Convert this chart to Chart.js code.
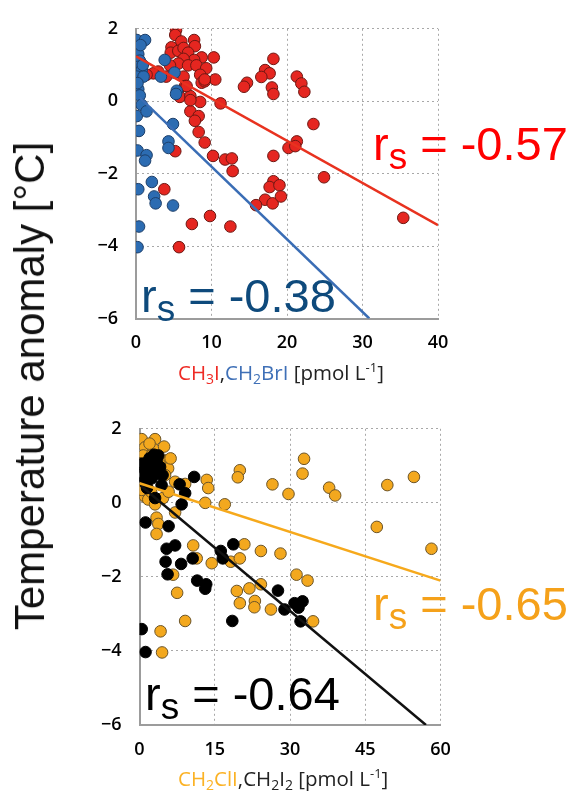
<!DOCTYPE html>
<html>
<head>
<meta charset="utf-8">
<script src="https://cdn.jsdelivr.net/npm/chart.js@4/dist/chart.umd.min.js"></script>
<style>
  html, body { margin: 0; padding: 0; background: #fff; }
  body { width: 571px; height: 796px; position: relative; overflow: hidden; }
  canvas { position: absolute; left: 0; }
  #topChart { top: 0; }
  #bottomChart { top: 400px; }
  #ytitle {
    position: absolute; left: 30px; top: 386px;
    font: 42px "Liberation Sans", Arial, sans-serif; color: #111;
    white-space: nowrap; transform: translate(-50%, -50%) rotate(-90deg);
  }
</style>
</head>
<body>
<canvas id="topChart" width="571" height="400"></canvas>
<canvas id="bottomChart" width="571" height="396"></canvas>
<div id="ytitle">Temperature anomaly [°C]</div>
<script>
// top panel: CH3I (red) and CH2BrI (blue)
const ch3iX = [5.3, 5.2, 6.0, 7.7, 7.8, 4.7, 4.6, 5.6, 6.3, 6.9, 8.7, 10.3, 7.7, 6.3, 5.6, 4.5, 6.9, 8.0, 9.3, 2.95,
  2.3, 1.4, 4.0, 6.3, 8.5, 10.5, 8.7, 9.1, 6.5, 5.8, 7.2, 8.5, 11.2, 7.2, 8.3, 7.8, 8.3, 9.1, 5.2, 10.2,
  11.8, 12.7, 12.8, 18.2, 20.2, 21.3, 21.1, 23.5, 24.9, 18.2, 17.1, 17.7, 16.6, 14.7, 14.3, 18.0, 18.2, 21.3, 21.9, 22.3,
  35.4, 18.2, 17.7, 19.0, 17.1, 18.1, 19.2, 15.9, 3.75, 9.8, 7.4, 12.5, 5.7, 9.1, 6.7, 7.2];
const ch3iY = [1.96, 1.83, 1.65, 1.69, 1.52, 1.49, 1.34, 1.39, 1.47, 1.34, 1.21, 1.21, 1.14, 1.17, 1.04, 0.99, 0.99, 0.99, 0.91, 0.82,
  0.77, 0.73, 0.68, 0.68, 0.73, 0.6, 0.51, 0.55, 0.42, 0.12, 0.14, -0.02, -0.06, -0.28, -0.41, -0.54, -0.85, -1.14, -1.38, -1.51,
  -1.61, -1.58, -1.93, -1.51, -1.29, -1.11, -1.24, -0.63, -2.1, 1.17, 0.86, 0.77, 0.67, 0.51, 0.4, 0.38, 0.2, 0.68, 0.49, 0.26,
  -3.22, -2.21, -2.37, -2.32, -2.72, -2.82, -2.63, -2.87, -2.43, -3.17, -3.39, -3.46, -4.03, 0.6, 0.42, 0.03];
const ch2briX = [0.1, 1.2, 0.1, 0.3, 0.5, 0.3, 0.75, 0.1, 1.0, 0.3, 0.5, 0.75, 0.1, 1.4, 3.8, 3.3, 5.1, 5.4, 5.3, 4.9,
  0.4, 4.3, 4.3, 0.2, 1.4, 1.2, 2.1, 0.3, 2.4, 2.6, 4.9, 0.4, 0.2, 0.6, 0.9, 0.2];
const ch2briY = [1.69, 1.69, 1.43, 1.3, 1.12, 0.95, 0.86, 0.68, 0.68, 0.33, 0.16, -0.1, -0.41, -0.28, 1.14, 0.68, 0.79, 0.29, 0.2, -0.63,
  -0.82, -1.11, -1.29, -1.36, -1.49, -1.64, -2.23, -2.43, -2.63, -2.82, -2.88, -3.46, -4.03, 1.55, 1.0, 0.5];
const ch3iFitX = [0, 40];
const ch3iFitY = [1.24, -3.42];
const ch2briFitX = [0.5, 30.9];
const ch2briFitY = [0.1, -6];

// bottom panel: CH2ClI (orange) and CH2I2 (black)
const ch2cliX = [0.44, 3.1, 1.1, 2.75, 4.9, 0.76, 2.4, 5.4, 5.7, 5.1, 7.1, 9.1, 13.4, 13.7, 20.0, 19.6, 13.1, 17.0, 1.1, 1.75,
  3.1, 4.7, 7.1, 3.4, 3.75, 3.4, 0.44, 10.7, 11.4, 14.4, 18.2, 20.0, 20.9, 24.2, 28.1, 6.7, 7.5, 19.4, 21.9, 24.2,
  20.0, 23.0, 22.9, 26.2, 31.3, 33.5, 34.6, 9.1, 4.2, 4.5, 32.8, 32.5, 29.7, 37.8, 39.0, 49.4, 54.7, 47.3, 58.2, 26.5,
  2.0, 4.0, 6.2, 1.5, 5.8, 2.3];
const ch2cliY = [1.72, 1.72, 1.5, 1.46, 1.52, 1.28, 1.28, 1.15, 0.93, 0.75, 0.57, 0.51, 0.62, 0.4, 0.88, 0.69, 0.0, -0.04, 0.17, 0.09,
  -0.04, 0.13, -0.26, -0.4, -0.57, -0.84, 0.35, -1.15, -1.5, -1.63, -1.59, -1.5, -1.12, -1.3, -1.37, -1.94, -2.43, -2.38, -2.31, -2.2,
  -2.71, -2.65, -2.82, -2.88, -1.94, -2.1, -3.2, -3.19, -3.47, -4.04, 1.19, 0.79, 0.24, 0.41, 0.2, 0.48, 0.7, -0.65, -1.24, 0.5,
  1.6, 1.05, 1.2, 0.45, 0.3, 0.3];
const ch2i2X = [0.0, 0.0, 1.1, 2.4, 3.4, 3.75, 2.4, 1.1, 3.75, 4.1, 0.76, 4.4, 10.9, 8.0, 9.1, 8.4, 3.1, 1.2, 5.8, 5.4,
  7.1, 5.2, 8.3, 10.6, 5.6, 11.5, 13.3, 13.1, 16.2, 16.6, 18.7, 27.6, 28.9, 30.9, 32.5, 31.7, 32.1, 18.5, 0.44, 1.2,
  1.5, 2.0, 2.9, 1.8, 4.6];
const ch2i2Y = [1.06, 0.75, 0.88, 0.97, 1.15, 0.79, 0.66, 0.62, 1.28, 0.97, 1.06, 0.48, 0.7, 0.5, 0.26, -0.04, 0.13, -0.53, -0.63, -1.24,
  -1.15, -1.59, -1.65, -1.5, -1.93, -2.1, -2.2, -2.32, -1.3, -1.5, -1.12, -2.37, -2.88, -2.71, -2.66, -2.83, -3.2, -3.19, -3.41, -4.03,
  0.4, 1.2, 1.3, 0.8, 0.75];
const ch2cliFitX = [0, 60];
const ch2cliFitY = [0.53, -2.1];
const ch2i2FitX = [0.1, 57.1];
const ch2i2FitY = [0.48, -6];

const yTicks = [-6, -4, -2, 0, 2];
const xTicksTop = [0, 10, 20, 30, 40];
const xTicksBottom = [0, 15, 30, 45, 60];

const RED = "#e52620", BLUE = "#2c6cb2", ORANGE = "#f3a81e", BLACK = "#000";

function pts(xs, ys) {
  return xs.map((x, i) => ({ x: x, y: ys[i] }));
}

function dots(xs, ys, fill, edge, order) {
  return {
    data: pts(xs, ys), backgroundColor: fill, borderColor: edge,
    borderWidth: 1, pointRadius: 5.8, order: order
  };
}

function fit(xs, ys, color, order) {
  return {
    type: "line", data: pts(xs, ys), borderColor: color, borderWidth: 2.5,
    pointRadius: 0, fill: false, order: order
  };
}

// draws text runs with sub/superscripts at a canvas position
const richText = {
  id: "richText",
  afterDraw(chart, args, opts) {
    const ctx = chart.ctx;
    ctx.save();
    ctx.textBaseline = "alphabetic";
    ctx.textAlign = "left";
    (opts.items || []).forEach((item) => {
      let x = item.x;
      item.parts.forEach((p) => {
        const size = p.size || item.size;
        ctx.font = size + "px " + item.family;
        ctx.fillStyle = p.color || item.color;
        ctx.fillText(p.t, x, item.y + (p.dy || 0));
        x += ctx.measureText(p.t).width;
      });
    });
    ctx.restore();
  }
};

const tickFont = { family: "'Open Sans', sans-serif", size: 18, weight: "600" };
const minus = (v) => (v < 0 ? "\u2212" + Math.abs(v) : String(v));

function scales(xMin, xMax, xTicks, yWidth, xHeight) {
  return {
    x: {
      type: "linear", min: xMin, max: xMax,
      afterBuildTicks: (s) => { s.ticks = xTicks.map((v) => ({ value: v })); },
      afterFit: (s) => { s.height = xHeight; },
      grid: { color: "#a8a8a8", lineWidth: 1, drawTicks: false },
      border: { display: true, color: "#9c9c9c", width: 2, dash: [2, 3] },
      ticks: { font: tickFont, color: "#000", padding: 14, maxRotation: 0, callback: minus }
    },
    y: {
      type: "linear", min: -6, max: 2,
      afterBuildTicks: (s) => { s.ticks = yTicks.map((v) => ({ value: v })); },
      afterFit: (s) => { s.width = yWidth; },
      grid: { color: "#a8a8a8", lineWidth: 1, drawTicks: false },
      border: { display: true, color: "#9c9c9c", width: 2, dash: [2, 3] },
      ticks: { font: tickFont, color: "#000", padding: 18, callback: minus }
    }
  };
}

const arial = "'Liberation Sans', Arial, sans-serif";
const myriad = "'Open Sans', sans-serif";

new Chart(document.getElementById("topChart"), {
  type: "scatter",
  data: {
    datasets: [
      fit(ch3iFitX, ch3iFitY, "#e8321f", 0),
      fit(ch2briFitX, ch2briFitY, "#3a6db5", 0),
      dots(ch2briX, ch2briY, BLUE, "#1d3f6a", 1),
      dots(ch3iX, ch3iY, RED, "#6e1712", 2)
    ]
  },
  options: {
    responsive: false, animation: false,
    layout: { padding: { top: 16.5, right: 133, left: 0, bottom: 0 } },
    scales: scales(0, 40, xTicksTop, 136, 81.5),
    plugins: {
      legend: { display: false }, tooltip: { enabled: false },
      richText: {
        items: [
          { x: 373, y: 160, size: 47, family: arial, color: "#ff0000",
            parts: [{ t: "r" }, { t: "s", size: 37, dy: 9 }, { t: " = -0.57" }] },
          { x: 141, y: 312, size: 47, family: arial, color: "#0e4a7c",
            parts: [{ t: "r" }, { t: "s", size: 37, dy: 9 }, { t: " = -0.38" }] },
          { x: 178, y: 380, size: 20.5, family: myriad, color: "#222",
            parts: [
              { t: "CH", color: "#ee2b25" }, { t: "3", size: 14, dy: 4, color: "#ee2b25" }, { t: "I", color: "#ee2b25" },
              { t: "," }, { t: "CH", color: "#3f70b7" }, { t: "2", size: 14, dy: 4, color: "#3f70b7" },
              { t: "BrI", color: "#3f70b7" }, { t: " [pmol L" }, { t: "-1", size: 13, dy: -8 }, { t: "]" }
            ] }
        ]
      }
    }
  },
  plugins: [richText]
});

new Chart(document.getElementById("bottomChart"), {
  type: "scatter",
  data: {
    datasets: [
      fit(ch2cliFitX, ch2cliFitY, "#f6a91c", 0),
      fit(ch2i2FitX, ch2i2FitY, "#111", 0),
      dots(ch2i2X, ch2i2Y, BLACK, "#000", 1),
      dots(ch2cliX, ch2cliY, ORANGE, "#6b5428", 2)
    ]
  },
  options: {
    responsive: false, animation: false,
    layout: { padding: { top: 22.7, right: 130.5, left: 0, bottom: 0 } },
    scales: scales(0, 60, xTicksBottom, 139.5, 71),
    plugins: {
      legend: { display: false }, tooltip: { enabled: false },
      richText: {
        items: [
          { x: 373, y: 220, size: 47, family: arial, color: "#f5a11a",
            parts: [{ t: "r" }, { t: "s", size: 37, dy: 9 }, { t: " = -0.65" }] },
          { x: 145, y: 310, size: 47, family: arial, color: "#000",
            parts: [{ t: "r" }, { t: "s", size: 37, dy: 9 }, { t: " = -0.64" }] },
          { x: 178, y: 386, size: 20.5, family: myriad, color: "#222",
            parts: [
              { t: "CH", color: "#fbb225" }, { t: "2", size: 14, dy: 4, color: "#fbb225" }, { t: "ClI", color: "#fbb225" },
              { t: "," }, { t: "CH" }, { t: "2", size: 14, dy: 4 }, { t: "I" }, { t: "2", size: 14, dy: 4 },
              { t: " [pmol L" }, { t: "-1", size: 13, dy: -8 }, { t: "]" }
            ] }
        ]
      }
    }
  },
  plugins: [richText]
});
</script>
</body>
</html>
